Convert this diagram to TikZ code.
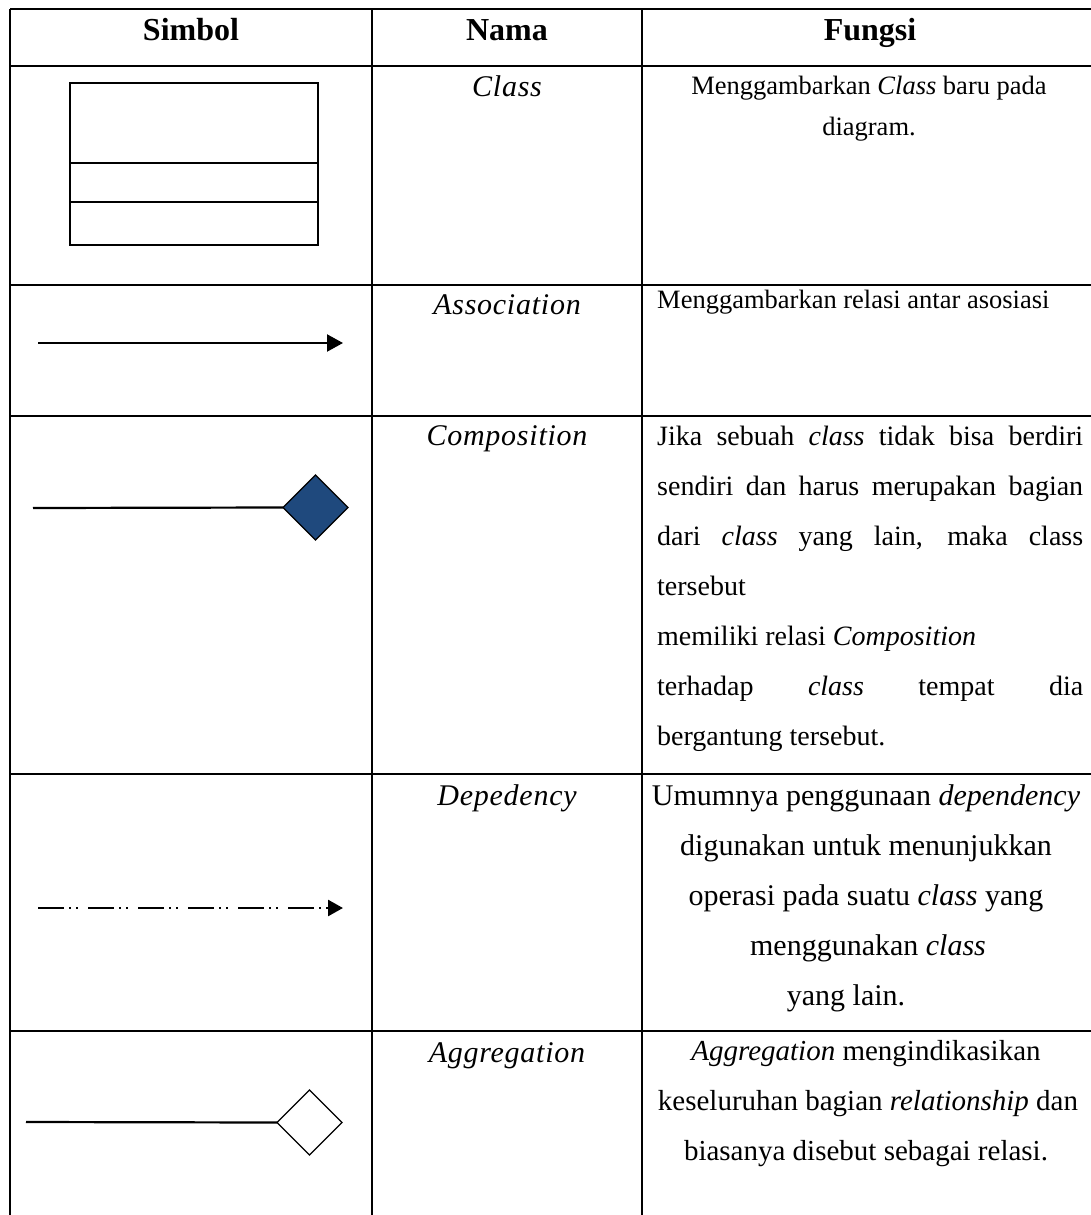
\documentclass[tikz,border=0pt]{standalone}
\usepackage{fontspec}
\setmainfont{Liberation Serif}
\newfontfamily\namefont[LetterSpace=2.5]{Liberation Serif}
\usetikzlibrary{arrows.meta,shapes.geometric}
\definecolor{compblue}{RGB}{31,73,125}
\begin{document}
\begin{tikzpicture}[x=1pt,y=-1pt,
  grid/.style={line width=2.6pt},
  head/.style={font=\fontsize{32}{36}\selectfont\bfseries, anchor=base, inner sep=0pt},
  nama/.style={font=\fontsize{30}{34}\selectfont\namefont\itshape, anchor=base, inner sep=0pt},
  descsmall/.style={font=\fontsize{26.5}{30}\selectfont, inner sep=0pt},
  desccomp/.style={font=\fontsize{28}{32}\selectfont, anchor=base west, inner sep=0pt},
  descdep/.style={font=\fontsize{30}{34}\selectfont, anchor=base, inner sep=0pt},
  descagg/.style={font=\fontsize{29}{33}\selectfont, anchor=base, inner sep=0pt},
  relline/.style={line width=2.2pt},
  relhead/.style={-{Triangle[length=16pt,width=17pt]}},
  relkite/.style={diamond, draw=black, line width=1.3pt, minimum width=65pt,
    minimum height=65pt, inner sep=0pt, outer sep=0pt},
]
\useasboundingbox (0,0) rectangle (1091,1215);

% table rules
\draw[grid] (10,9) -- (1096,9);
\draw[grid] (10,66) -- (1096,66);
\draw[grid] (10,285) -- (1096,285);
\draw[grid] (10,416) -- (1096,416);
\draw[grid] (10,774) -- (1096,774);
\draw[grid] (10,1031) -- (1096,1031);
\draw[grid] (10,9) -- (10,1220);
\draw[grid] (372,9) -- (372,1220);
\draw[grid] (642,9) -- (642,1220);

% header
\node[head] (hSimbol) at (191,41) {Simbol};
\node[head] (hNama)   at (507,41) {Nama};
\node[head] (hFungsi) at (870,41) {Fungsi};

% names
\node[nama] (nClass) at (507,96)   {Class};
\node[nama] (nAssoc) at (507,314)  {Association};
\node[nama] (nComp)  at (507,445)  {Composition};
\node[nama] (nDep)   at (507,805)  {Depedency};
\node[nama] (nAgg)   at (507,1062) {Aggregation};

% Class row
\draw[line width=2pt] (70,83) rectangle (318,245);
\draw[line width=2pt] (70,163) -- (318,163);
\draw[line width=2pt] (70,202) -- (318,202);
\node[descsmall, anchor=base] (dClass1) at (869,95)  {Menggambarkan \textit{Class} baru pada};
\node[descsmall, anchor=base] (dClass2) at (869,135) {diagram.};

% Association row
\coordinate (aStart) at (38,343);
\coordinate (aEnd)   at (343,343);
\draw[relline, relhead] (aStart) -- (aEnd);
\node[descsmall, anchor=base west] (dAssoc) at (657,308) {Menggambarkan relasi antar asosiasi};

% Composition row
\coordinate (cStart) at (33,508);
\node[relkite, fill=compblue] (cKite) at (315.5,507.5) {};
\draw[relline] (cStart) -- (cKite.west);
\node[desccomp] (dComp1) at (657,445) {\makebox[426pt][s]{Jika sebuah \textit{class} tidak bisa berdiri}};
\node[desccomp] (dComp2) at (657,495) {\makebox[426pt][s]{sendiri dan harus merupakan bagian}};
\node[desccomp] (dComp3) at (657,545) {\makebox[426pt][s]{dari \textit{class} yang lain, maka class}};
\node[desccomp] (dComp4) at (657,595) {tersebut};
\node[desccomp] (dComp5) at (657,645) {memiliki relasi \textit{Composition}};
\node[desccomp] (dComp6) at (657,695) {\makebox[426pt][s]{terhadap \textit{class} tempat dia}};
\node[desccomp] (dComp7) at (657,745) {bergantung tersebut.};

% Dependency row
\coordinate (dStart) at (38,908);
\coordinate (dEnd)   at (343,908);
\draw[line width=2.6pt, dash pattern=on 26pt off 5pt on 2pt off 5pt on 2pt off 10pt,
  -{Triangle[length=15pt,width=16pt]}] (dStart) -- (dEnd);
\node[descdep] (dDep1) at (866,805)  {Umumnya penggunaan \textit{dependency}};
\node[descdep] (dDep2) at (866,855)  {digunakan untuk menunjukkan};
\node[descdep] (dDep3) at (866,905)  {operasi pada suatu \textit{class} yang};
\node[descdep] (dDep4) at (868,955)  {menggunakan \textit{class}};
\node[descdep] (dDep5) at (846,1005) {yang lain.};

% Aggregation row
\coordinate (gStart) at (26,1122);
\node[relkite, fill=white] (gKite) at (309.5,1122.5) {};
\draw[relline] (gStart) -- (gKite.west);
\node[descagg] (dAgg1) at (866,1060) {\textit{Aggregation} mengindikasikan};
\node[descagg] (dAgg2) at (868,1110) {keseluruhan bagian \textit{relationship} dan};
\node[descagg] (dAgg3) at (866,1160) {biasanya disebut sebagai relasi.};
\end{tikzpicture}
\end{document}
